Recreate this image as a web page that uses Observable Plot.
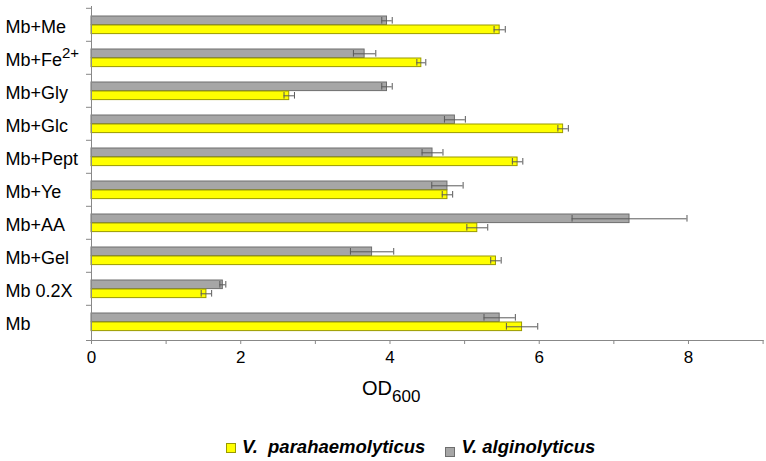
<!DOCTYPE html>
<html><head><meta charset="utf-8">
<script src="https://cdn.jsdelivr.net/npm/d3@7"></script>
<script src="https://cdn.jsdelivr.net/npm/@observablehq/plot@0.6"></script>
<style>
body{margin:0;background:#fff;font-family:"Liberation Sans",Arial,sans-serif;}
#wrap{position:relative;width:766px;height:461px;overflow:hidden;}
#xlabel{position:absolute;left:362px;top:376px;font-size:20px;line-height:24px;color:#000;white-space:nowrap;}
#xlabel sub{font-size:17px;position:relative;top:1px;vertical-align:-6px;}
#legend{position:absolute;left:226px;top:436px;font-size:18.5px;font-weight:bold;font-style:italic;white-space:pre;display:flex;align-items:center;}
.sw{display:inline-block;width:8px;height:8px;border:1px solid;margin-right:6px;}
</style>
</head><body>
<div id="wrap"><div id="chart"></div>
<div id="xlabel">OD<sub>600</sub></div>
<div id="legend"></div>
</div>
<script>
const categories = ["Mb+Me","Mb+Fe2+","Mb+Gly","Mb+Glc","Mb+Pept","Mb+Ye","Mb+AA","Mb+Gel","Mb 0.2X","Mb"];
const paraValues = [5.47,4.42,2.65,6.32,5.71,4.77,5.17,5.42,1.54,5.77];
const paraErrors = [0.075,0.06,0.07,0.07,0.07,0.07,0.14,0.07,0.07,0.21];
const algValues  = [3.96,3.66,3.96,4.87,4.57,4.77,7.21,3.76,1.76,5.47];
const algErrors  = [0.07,0.15,0.07,0.14,0.14,0.21,0.77,0.29,0.04,0.21];
const xTicks = [0,1,2,3,4,5,6,7,8,9];
const seriesNames = ["V.  parahaemolyticus","V. alginolyticus"];
const seriesColors = ["#ffff00","#a6a6a6"];
const seriesStrokes = ["#9a9a00","#6e6e6e"];

const para = categories.map((c,i)=>({cat:c,v:paraValues[i],e:paraErrors[i]}));
const alg = categories.map((c,i)=>({cat:c,v:algValues[i],e:algErrors[i]}));

const errColor = "#5a5a5a";
const svg = Plot.plot({
  width: 766, height: 372,
  marginLeft: 91, marginRight: 3.4, marginTop: 6, marginBottom: 32,
  style: {fontFamily: "'Liberation Sans', Arial, sans-serif", background: "#fff", overflow: "visible"},
  x: {domain: [0, 9], ticks: xTicks},
  y: {domain: categories, padding: 0},
  marks: [
    Plot.barX(alg, {x: "v", y: "cat", fill: seriesColors[1], stroke: seriesStrokes[1], strokeWidth: 1, insetTop: 8, insetBottom: 16.4}),
    Plot.barX(para, {x: "v", y: "cat", fill: seriesColors[0], stroke: seriesStrokes[0], strokeWidth: 1, insetTop: 17, insetBottom: 7.4}),
    Plot.ruleY(alg, {y: "cat", x1: d=>d.v-d.e, x2: d=>d.v+d.e, dy: -4.2, stroke: errColor}),
    Plot.ruleY(para, {y: "cat", x1: d=>d.v-d.e, x2: d=>d.v+d.e, dy: 4.8, stroke: errColor}),
    Plot.tickX(alg, {x: d=>d.v-d.e, y: "cat", insetTop: 9, insetBottom: 17.4, stroke: errColor}),
    Plot.tickX(alg, {x: d=>d.v+d.e, y: "cat", insetTop: 9, insetBottom: 17.4, stroke: errColor}),
    Plot.tickX(para, {x: d=>d.v-d.e, y: "cat", insetTop: 18, insetBottom: 8.4, stroke: errColor}),
    Plot.tickX(para, {x: d=>d.v+d.e, y: "cat", insetTop: 18, insetBottom: 8.4, stroke: errColor}),
    Plot.ruleX([0], {stroke: "#888"}),
    Plot.frame({anchor: "bottom", stroke: "#888", insetLeft: -5}),
    Plot.axisY({tickSize: 0, tickPadding: 86, textAnchor: "start", fontSize: 18, dy: 2, fill: "#000", label: null}),
    Plot.axisY({text: null, tickSize: 5, dy: -16.7, stroke: "#888", label: null}),
    Plot.axisX({ticks: xTicks, tickSize: 4, tickPadding: 6, tickFormat: d => d % 2 ? "" : d, fontSize: 17, stroke: "#888", fill: "#000", label: null})
  ]
});
d3.select(svg).selectAll("text").filter(function(){ return this.textContent === "Mb+Fe2+"; }).each(function(){
  const t = d3.select(this);
  t.selectAll("*").remove();
  t.text("Mb+Fe");
  t.append("tspan").attr("dy", "-8").attr("font-size", "15px").text("2+");
});
document.getElementById("chart").appendChild(svg);

const leg = d3.select("#legend");
seriesNames.forEach((n,i)=>{
  const item = leg.append("span").style("display","inline-flex").style("align-items","center").style("margin-right", i===0?"20px":"0");
  item.append("span").attr("class","sw").style("background", seriesColors[i]).style("border-color", seriesStrokes[i]).style("margin-top", i===0?"2px":"9px");
  item.append("span").text(n);
});
</script>
</body></html>
